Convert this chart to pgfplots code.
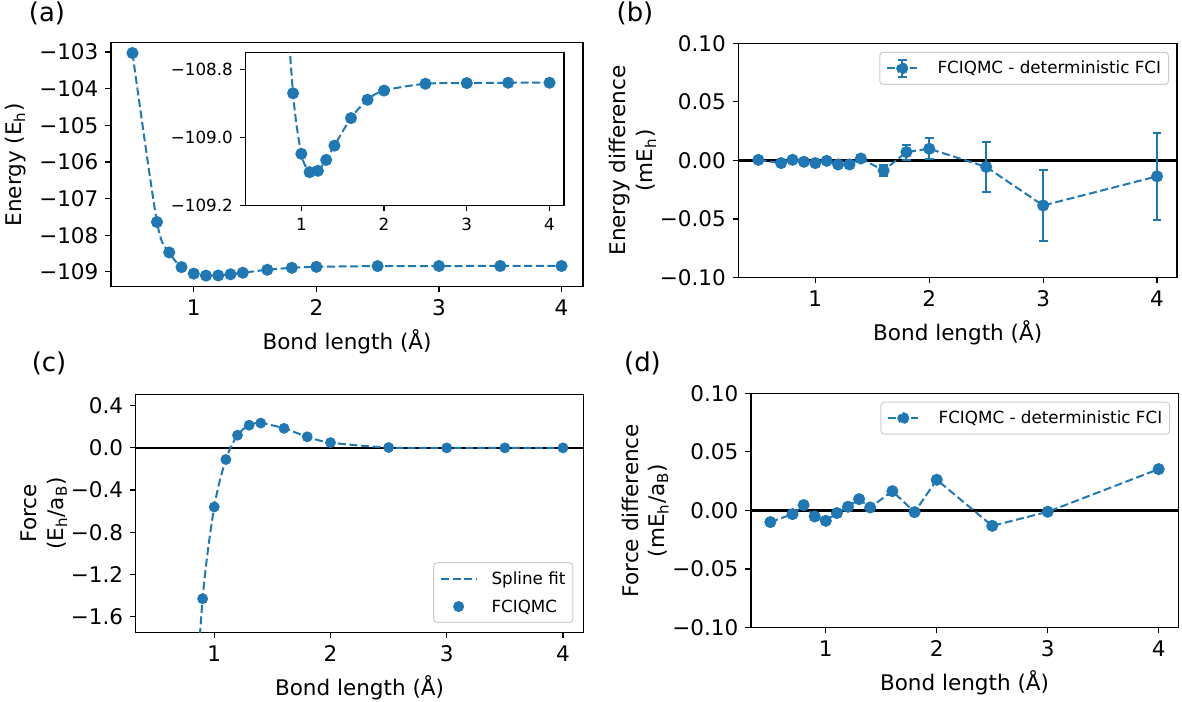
\documentclass[border=0pt]{standalone}
\usepackage{pgfplots}
\usepackage{pgfplotstable}
\pgfplotsset{compat=1.18}
\usepackage{fontspec}
\setmainfont{DejaVu Sans}
\definecolor{c0}{HTML}{1F77B4}
\newcommand{\tickfont}{\fontsize{10.8}{13.2}\selectfont}
\newcommand{\smallfont}{\fontsize{8.4}{10}\selectfont}

% energy (a)
\pgfplotstableread{
x E
0.5 -103.03
0.7 -107.64
0.8 -108.47
0.9 -108.87
1.0 -109.048
1.1 -109.102
1.2 -109.098
1.3 -109.066
1.4 -109.024
1.6 -108.943
1.8 -108.889
2.0 -108.862
2.5 -108.842
3.0 -108.840
3.5 -108.839
4.0 -108.839
}\dataA

% energy difference (b)
\pgfplotstableread{
x y e
0.5 0.0005 0.0012
0.7 -0.0022 0.0015
0.8 0.0006 0.0012
0.9 -0.0011 0.0012
1.0 -0.0022 0.0015
1.1 -0.0003 0.0015
1.2 -0.0034 0.0020
1.3 -0.0034 0.0030
1.4 0.0017 0.0030
1.6 -0.0085 0.0050
1.8 0.0072 0.0064
2.0 0.0100 0.0090
2.5 -0.0055 0.0210
3.0 -0.0384 0.0300
4.0 -0.0135 0.0370
}\dataB

% force (c), spline through points incl. 0.8
\pgfplotstableread{
x F
0.8 -3.1
0.9 -1.43
1.0 -0.56
1.1 -0.11
1.2 0.12
1.3 0.215
1.4 0.235
1.6 0.185
1.8 0.105
2.0 0.05
2.5 0.003
3.0 0.0
3.5 0.0
4.0 0.0
}\dataC

% force difference (d)
\pgfplotstableread{
x y
0.5 -0.0099
0.7 -0.0031
0.8 0.0046
0.9 -0.0051
1.0 -0.0088
1.1 -0.0022
1.2 0.0032
1.3 0.0097
1.4 0.0026
1.6 0.0165
1.8 -0.0014
2.0 0.0262
2.5 -0.0131
3.0 -0.0011
4.0 0.0353
}\dataD

\pgfplotsset{
  mpl/.style={
    scale only axis,
    anchor=south west,
    xmin=0.325, xmax=4.175,
    xtick={1,2,3,4},
    xticklabels={1,2,3,4},
    tick pos=left,
    tick align=outside,
    major tick length=2.8bp,
    tick style={black, line width=0.6bp},
    axis line style={line width=0.6bp},
    tick label style={font=\tickfont},
    label style={font=\tickfont},
    ylabel style={align=center},
    legend cell align=left,
    legend style={font=\smallfont, draw=black!20, line width=0.5bp,
      rounded corners=1.7bp, fill=white, fill opacity=0.8, text opacity=1,
      inner xsep=3.2bp, inner ysep=2.75bp, row sep=3.5bp, column sep=6.7bp,
      nodes={inner sep=0.5bp, text height=0.75em, text depth=0.2em}},
  },
  dashline/.style={c0, line width=1bp, dash pattern=on 4bp off 1.8bp},
  dot/.style={mark=*, mark size=2.5bp, mark options={solid, fill=c0, draw=c0}},
}

\begin{document}
\begin{tikzpicture}
\useasboundingbox (0,0) rectangle (591bp,351bp);

% (a)
\begin{axis}[mpl, at={(55.5bp,207.65bp)}, width=236bp, height=122bp,
  ymin=-109.404, ymax=-102.748,
  ytick={-109,-108,-107,-106,-105,-104,-103},
  yticklabels={−109,−108,−107,−106,−105,−104,−103},
  xlabel={Bond length (Å)}, ylabel={Energy (E\textsubscript{h})}]
\addplot[dashline, smooth, dot] table[x=x, y=E] {\dataA};
\end{axis}

% inset
\begin{axis}[mpl, at={(122.75bp,248.25bp)}, width=159.25bp, height=76.5bp,
  ymin=-109.2, ymax=-108.75,
  ytick={-109.2,-109.0,-108.8},
  yticklabels={−109.2,−109.0,−108.8},
  tick label style={font=\smallfont},
  axis background/.style={fill=white}]
\addplot[dashline, smooth, dot] table[x=x, y=E] {\dataA};
\end{axis}

% (b)
\begin{axis}[mpl, at={(369.2bp,212.15bp)}, width=219.3bp, height=117.2bp,
  ymin=-0.1, ymax=0.1,
  ytick={-0.1,-0.05,0,0.05,0.1},
  yticklabels={−0.10,−0.05,0.00,0.05,0.10},
  xlabel={Bond length (Å)},
  ylabel={Energy difference\\(mE\textsubscript{h})}, ylabel shift=-5bp,
  legend style={at={(1,1)}, anchor=north east, xshift=-4bp, yshift=-4.3bp}]
\addplot[black, line width=1.1bp, forget plot] coordinates {(0.325,0) (4.175,0)};
\addplot[dashline, dot,
  legend image code/.code={
    \draw[c0, opacity=1, line width=1bp, dash pattern=on 4bp off 1.8bp] (0bp,0bp) -- (15bp,0bp);
    \draw[c0, opacity=1, solid, line width=1bp] (7.5bp,-4.2bp) -- (7.5bp,4.2bp)
      (5.3bp,-4.2bp) -- (9.7bp,-4.2bp) (5.3bp,4.2bp) -- (9.7bp,4.2bp);
    \fill[c0, opacity=1] (7.5bp,0bp) circle (2.5bp);
    \path (17.5bp,0bp);},
  error bars/.cd, y dir=both, y explicit,
  error bar style={solid, c0, line width=1bp},
  error mark options={solid, c0, line width=1bp, mark size=2.2bp, rotate=90}]
  table[x=x, y=y, y error=e] {\dataB};
\addlegendentry{FCIQMC - deterministic FCI}
\end{axis}

% (c)
\begin{axis}[mpl, at={(67.9bp,34.65bp)}, width=223.75bp, height=119.2bp,
  ymin=-1.752, ymax=0.508,
  ytick={-1.6,-1.2,-0.8,-0.4,0,0.4},
  yticklabels={−1.6,−1.2,−0.8,−0.4,0.0,0.4},
  xlabel={Bond length (Å)},
  ylabel={Force\\(E\textsubscript{h}/a\textsubscript{B})}, ylabel shift=-5bp,
  legend style={at={(1,0)}, anchor=south east, xshift=-5bp, yshift=4.85bp}]
\addplot[black, line width=1.1bp, forget plot] coordinates {(0.325,0) (4.175,0)};
\addplot[dashline, smooth,
  legend image code/.code={\draw[c0, opacity=1, line width=1bp, dash pattern=on 4bp off 1.8bp] (0bp,0bp) -- (17.5bp,0bp);}]
  table[x=x, y=F] {\dataC};
\addlegendentry{Spline fit}
\addplot[only marks, dot,
  legend image code/.code={\path (0bp,0bp) (17.5bp,0bp); \fill[c0, opacity=1] (8.75bp,0bp) circle (2.5bp);}]
  table[x=x, y=F] {\dataC};
\addlegendentry{FCIQMC}
\end{axis}

% (d)
\begin{axis}[mpl, at={(375.45bp,37.15bp)}, width=213.6bp, height=117.2bp,
  ymin=-0.1, ymax=0.1,
  ytick={-0.1,-0.05,0,0.05,0.1},
  yticklabels={−0.10,−0.05,0.00,0.05,0.10},
  xlabel={Bond length (Å)},
  ylabel={Force difference\\(mE\textsubscript{h}/a\textsubscript{B})}, ylabel shift=-5bp,
  legend style={at={(1,1)}, anchor=north east, xshift=-4bp, yshift=-4.2bp}]
\addplot[black, line width=1.1bp, forget plot] coordinates {(0.325,0) (4.175,0)};
\addplot[dashline, dot,
  legend image code/.code={\draw[c0, opacity=1, line width=1bp, dash pattern=on 4bp off 1.8bp] (0bp,0bp) -- (15bp,0bp); \path (17.5bp,0bp); \fill[c0, opacity=1] (7.5bp,0bp) circle (2.5bp);}]
  table[x=x, y=y] {\dataD};
\addlegendentry{FCIQMC - deterministic FCI}
\end{axis}

\node[font=\fontsize{13}{15}\selectfont] at (23.5bp,344.5bp) {(a)};
\node[font=\fontsize{13}{15}\selectfont] at (317.5bp,344.5bp) {(b)};
\node[font=\fontsize{13}{15}\selectfont] at (24.5bp,169.5bp) {(c)};
\node[font=\fontsize{13}{15}\selectfont] at (321.25bp,169.5bp) {(d)};
\end{tikzpicture}
\end{document}
